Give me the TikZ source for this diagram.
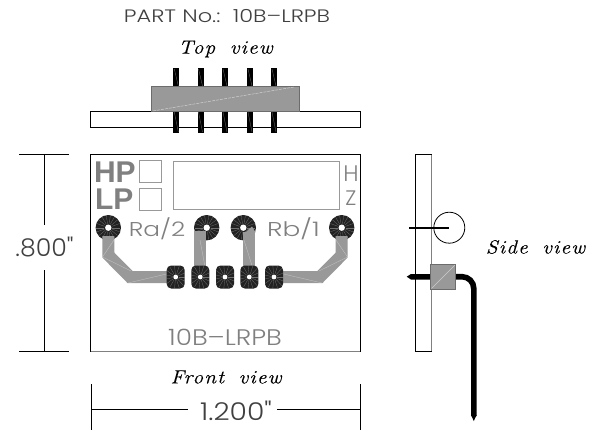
\documentclass[tikz,border=0pt]{standalone}
\usepackage{fontspec}
\setmainfont{Liberation Sans}
\newfontfamily\cadfont{Poppins Light}
\newfontfamily\italfont[LetterSpace=6,FakeStretch=1.12,WordSpace=1.7,FakeBold=0.25]{Latin Modern Roman}
\definecolor{pcbgray}{HTML}{999999}
\definecolor{txtgray}{HTML}{808080}
\definecolor{padblack}{HTML}{222222}
\newcommand{\cadtext}[1]{\fontsize{#1}{#1}\selectfont}
\newcommand{\cadwide}[2]{\scalebox{#1}[1]{#2}}
\usetikzlibrary{calc}
\tikzset{
  x=1pt,y=-1pt,
  board/.style={draw=black,line width=0.9pt,fill=white},
  blockshape/.style={fill=pcbgray,draw=gray!85!black,line width=0.5pt},
  trace/.style={draw=pcbgray,line width=12pt,line join=miter,line cap=butt},
  mesh/.style={draw=white,opacity=0.4,line width=0.35pt},
  pinbar/.style={fill=black},
  silk/.style={draw=txtgray!80,line width=0.9pt,fill=white},
  dim/.style={draw=black,line width=0.8pt},
  cadlabel/.style={inner sep=0,outer sep=0,text=txtgray},
  blacklabel/.style={inner sep=0,outer sep=0,text=black!75},
  viewlabel/.style={inner sep=0,outer sep=0,text=black,font=\italfont\itshape\cadtext{19}},
  spoke/.style={draw=white,opacity=0.35,line width=0.3pt}
}
\newcommand{\roundpad}[2]{%
  \fill[padblack] (#1,#2) circle[radius=12.7];
  \foreach \a in {0,20,...,340}{\draw[spoke] ($(#1,#2)+(\a:4)$) -- ($(#1,#2)+(\a:12)$);}
  \fill[white] (#1,#2) circle[radius=3.2];
}
\newcommand{\smallpad}[2]{%
  \begin{scope}
    \clip (#1-9,#2-13) rectangle (#1+9,#2+13);
    \fill[padblack,rounded corners=4.5] (#1-9,#2-11.5) rectangle (#1+9,#2+11.5);
    \foreach \a in {0,24,...,336}{\draw[spoke] ($(#1,#2)+(\a:3)$) -- ($(#1,#2)+(\a:11.5)$);}
  \end{scope}
  \fill[white] (#1,#2) circle[radius=2.4];
}
\begin{document}
\begin{tikzpicture}
\useasboundingbox (0,0) rectangle (597,431);
\fill[white] (0,0) rectangle (597,431);

% titles
\node[blacklabel,font=\cadfont\cadtext{18}] (part) at (227,16.5) {\cadwide{1.25}{PART No.:~~10B–LRPB}};
\node[viewlabel] (top) at (225.5,49) {Top view};

% top view
\draw[board] (90.5,111) rectangle (360,127);
\foreach \x in {176.3,200.5,225,250,274}{
  \fill[pinbar] (\x-3,68) rectangle (\x+3,87);
  \fill[pinbar] (\x-3,111) rectangle (\x+3,133);
  \draw[mesh] (\x-2,69) -- (\x+2,86);
  \draw[mesh] (\x-2,112) -- (\x+2,132);
}
\draw[blockshape] (151.7,86.7) rectangle (299,111);
\draw[draw=white,opacity=0.55,line width=0.5pt,dash pattern=on 3pt off 1pt] (153,111) -- (294,87);

% front view board
\draw[board] (90.5,154.5) rectangle (360,351);
\draw[draw=gray,line width=1pt] (90.5,351) -- (360,351);

% silkscreen
\node[cadlabel,font=\bfseries\cadtext{30},anchor=west] (hp) at (94,172) {HP};
\node[cadlabel,font=\bfseries\cadtext{30},anchor=west] (lp) at (95,199) {LP};
\draw[silk] (139,160) rectangle (161,182);
\draw[silk] (139,188) rectangle (161,210);
\draw[silk] (173,161) rectangle (339,209.5);
\node[cadlabel,font=\cadfont\cadtext{22.5}] (hh) at (351,174) {H};
\node[cadlabel,font=\cadfont\cadtext{21}] (zz) at (351,198) {Z};
\node[cadlabel,font=\cadfont\cadtext{20}] (ra) at (157,229) {\cadwide{1.24}{Ra/2}};
\node[cadlabel,font=\cadfont\cadtext{20}] (rb) at (293.5,229) {\cadwide{1.32}{Rb/1}};
\node[cadlabel,font=\cadfont\cadtext{22.5}] (mark) at (225,337) {\cadwide{1.17}{10B–LRPB}};

% pads under traces
\roundpad{108.3}{227.7}
\roundpad{206.7}{227.7}
\roundpad{243.3}{227.7}
\roundpad{341.7}{227.7}

% traces
\draw[trace] (108.3,236) -- (108.3,255) -- (130,277) -- (175.7,277);
\draw[trace] (200.3,231) -- (200.3,277);
\draw[trace] (249.3,232) -- (249.3,277);
\draw[trace] (341.7,236) -- (341.7,255) -- (320,277) -- (274,277);
\fill[pcbgray] (243.5,234) -- (252,226.5) -- (255.3,232) -- (249,238) -- cycle;
\draw[mesh] (102.5,257) -- (114,240);
\draw[mesh] (102.5,257) -- (131,271);
\draw[mesh] (128,283) -- (175,272);
\draw[mesh] (200,240) -- (206,272);
\draw[mesh] (244,240) -- (254,272);
\draw[mesh] (347.5,257) -- (336,240);
\draw[mesh] (347.5,257) -- (319,271);
\draw[mesh] (322,283) -- (275,272);

% small pads
\smallpad{175.7}{277}
\smallpad{200.3}{277}
\smallpad{225}{277}
\smallpad{249.3}{277}
\smallpad{274}{277}

% dimensions
\coordinate (vt) at (44,154.5);
\coordinate (vb) at (44,351);
\draw[dim] (19,154.5) -- (69,154.5);
\draw[dim] (19,351) -- (69,351);
\node[blacklabel,font=\cadfont\cadtext{24.5}] (h) at (44.5,247) {\cadwide{1.03}{.800"}};
\draw[dim] (vt) -- (44,225);
\draw[dim] (44,270) -- (vb);
\node[viewlabel] (front) at (226,377) {Front view};
\coordinate (hl) at (91,409);
\coordinate (hr) at (360,409);
\draw[dim] (91,384) -- (91,430);
\draw[dim] (360,384) -- (360,430);
\node[blacklabel,font=\cadfont\cadtext{24.5}] (w) at (236,410.5) {\cadwide{1.15}{1.200"}};
\draw[dim] (hl) -- (188,409);
\draw[dim] (277,409) -- (hr);

% side view
\draw[board] (415.5,154.5) rectangle (431,351);
\draw[draw=gray,line width=1pt] (431,154.5) -- (431,351);
\draw[draw=black,line width=0.8pt] (449.3,227.7) circle[radius=15.5];
\draw[draw=black,line width=2.6pt] (409,228) -- (449.3,228);
\fill[black] (406.7,276.7) -- (411,274) -- (431,274) -- (431,279.5) -- (411,279.5) -- cycle;
\draw[draw=black,line width=5.6pt] (455.7,276.7) -- (462,276.7) arc[start angle=-90,end angle=0,radius=11.8] -- (473.8,416);
\fill[black] (471,415) -- (476.6,415) -- (473.8,421) -- cycle;
\draw[blockshape] (430.7,264.3) rectangle (455.7,289.3);
\draw[draw=white,opacity=0.5,line width=0.5pt] (431.5,288.5) -- (455,265);
\node[viewlabel] (side) at (535.5,247) {Side view};
\end{tikzpicture}
\end{document}
